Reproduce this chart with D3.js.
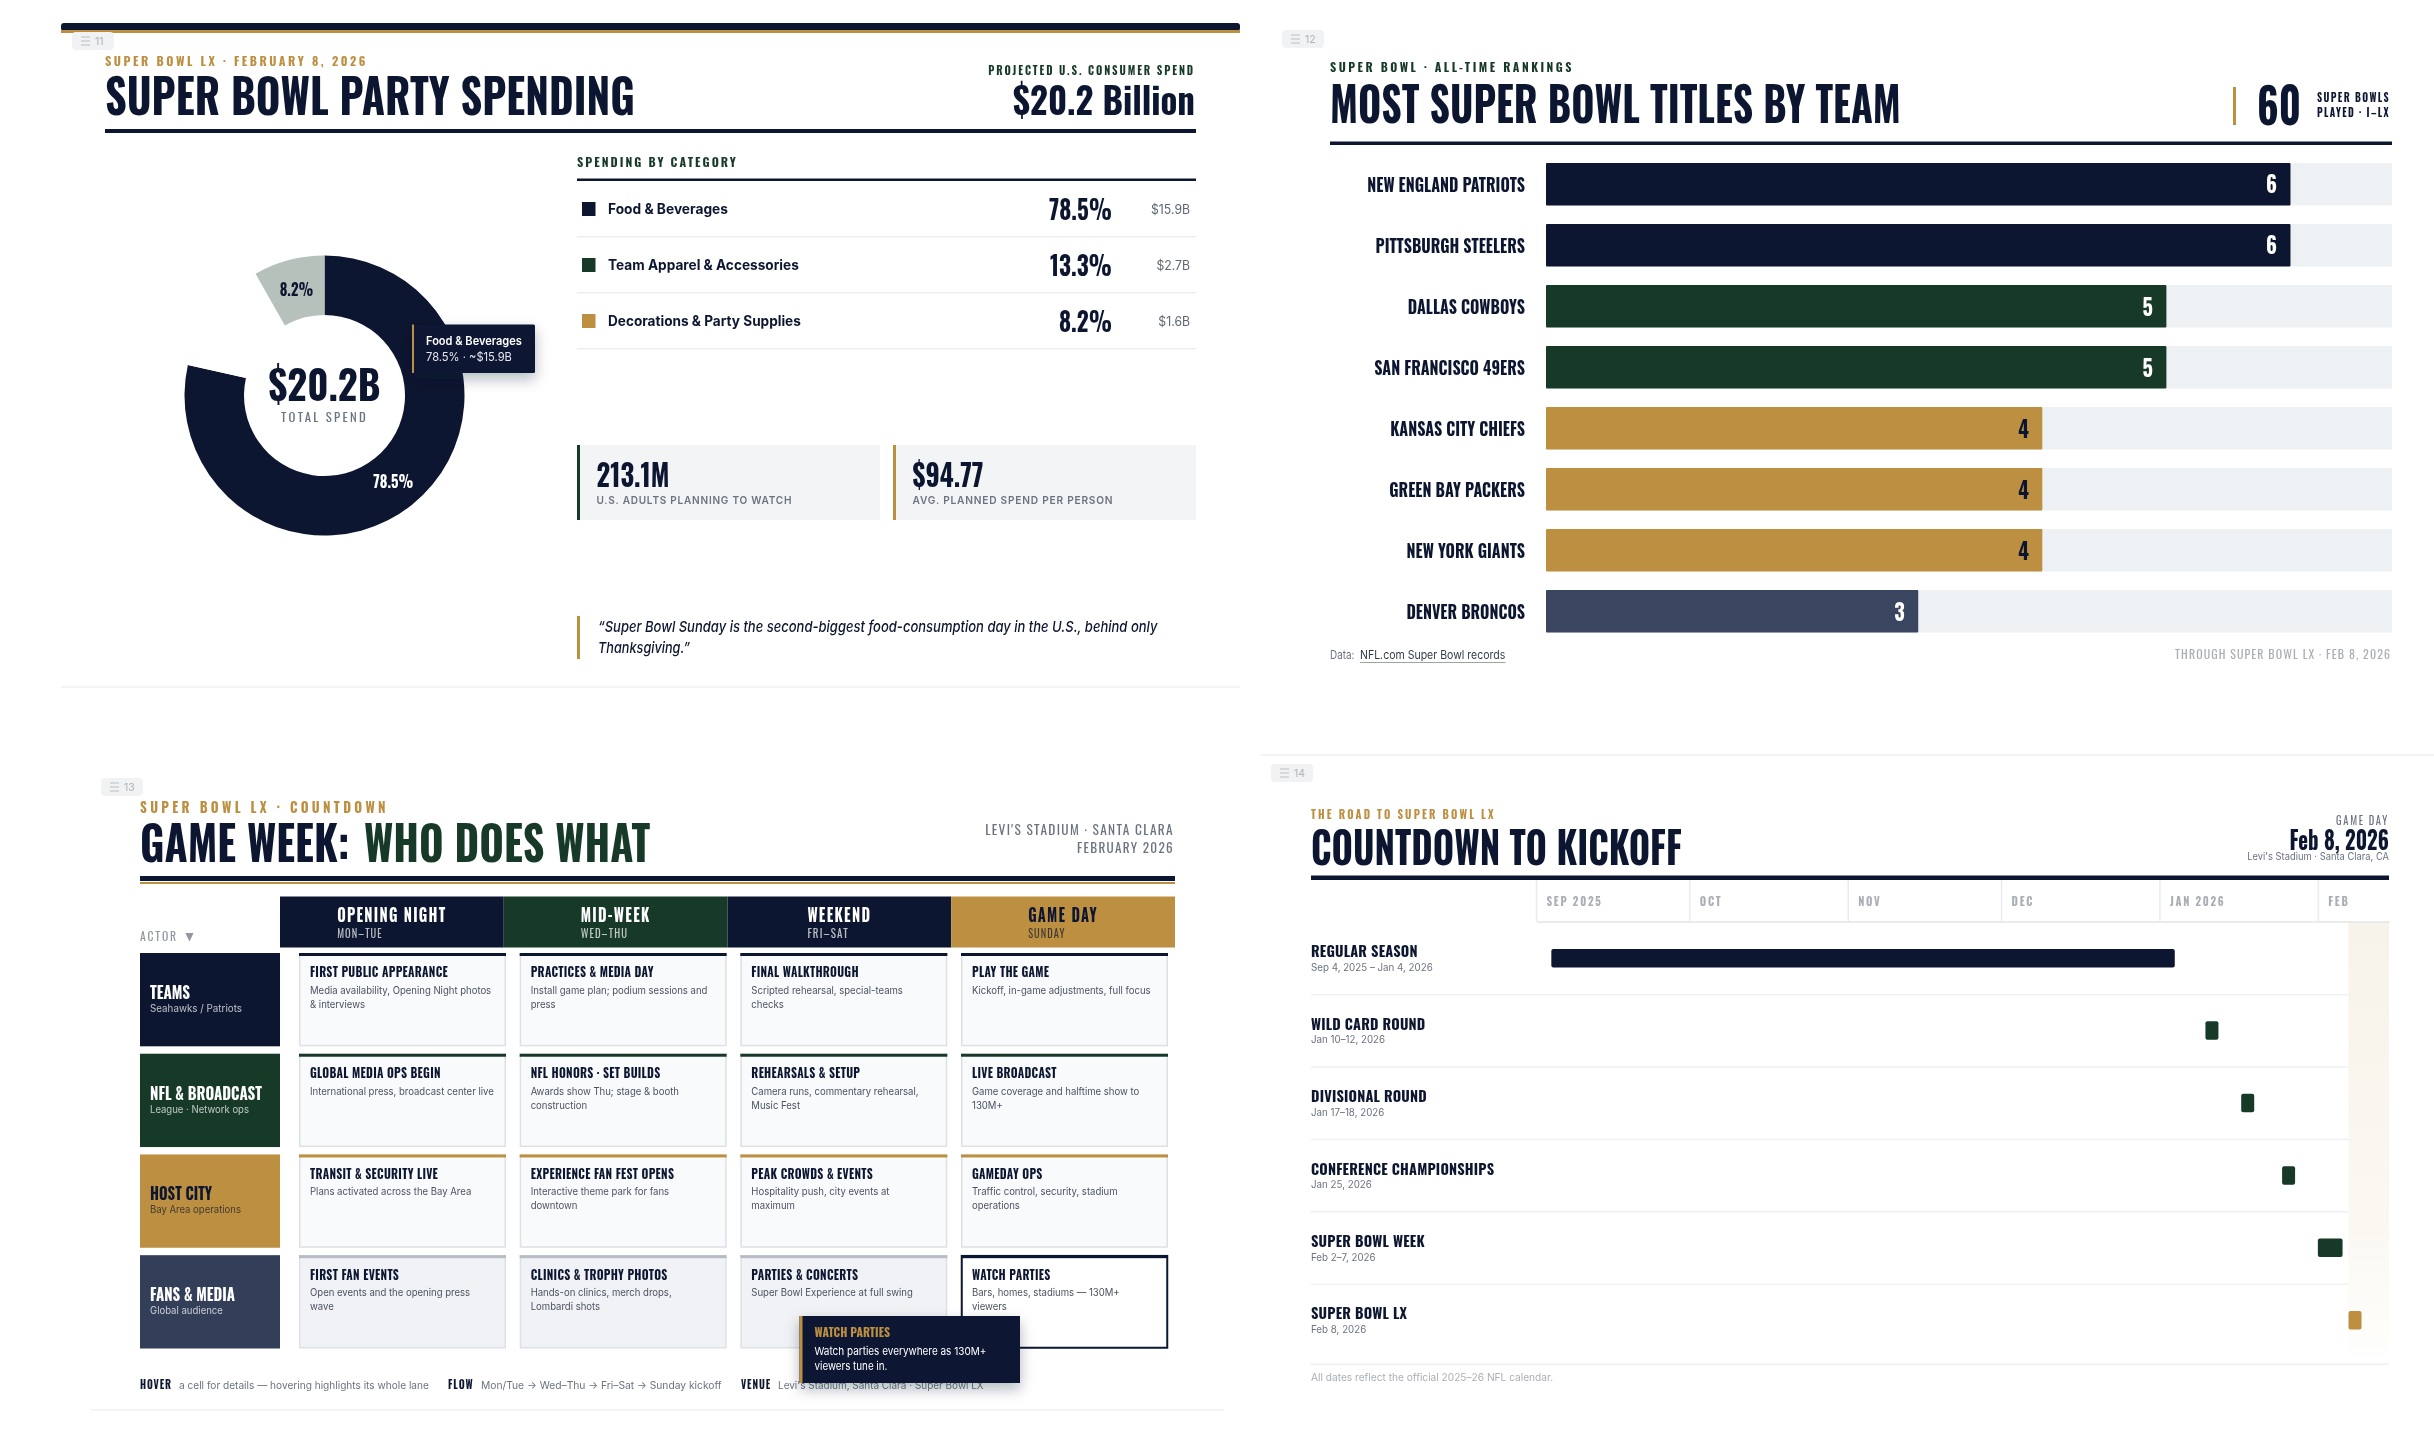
<!DOCTYPE html>
<html lang="en">
<head>
<meta charset="utf-8">
<title>Super Bowl LX slides</title>
<script src="https://d3js.org/d3.v7.min.js"></script>
<style>
  body { margin: 0; background: #fff; }
  svg { display: block; filter: blur(0.35px); }
</style>
</head>
<body>
<script>
// party spending
var spendCategories = ["Food & Beverages", "Team Apparel & Accessories", "Decorations & Party Supplies"];
var spendShares = [78.5, 13.3, 8.2];
var spendDollars = ["$15.9B", "$2.7B", "$1.6B"];
var statValues = ["213.1M", "$94.77"];
var statLabels = ["U.S. ADULTS PLANNING TO WATCH", "AVG. PLANNED SPEND PER PERSON"];

// titles by team
var teams = ["NEW ENGLAND PATRIOTS", "PITTSBURGH STEELERS", "DALLAS COWBOYS", "SAN FRANCISCO 49ERS",
  "KANSAS CITY CHIEFS", "GREEN BAY PACKERS", "NEW YORK GIANTS", "DENVER BRONCOS"];
var titles = [6, 6, 5, 5, 4, 4, 4, 3];

// game week grid
var phases = ["OPENING NIGHT", "MID-WEEK", "WEEKEND", "GAME DAY"];
var phaseDays = ["MON–TUE", "WED–THU", "FRI–SAT", "SUNDAY"];
var actors = ["TEAMS", "NFL & BROADCAST", "HOST CITY", "FANS & MEDIA"];
var actorNotes = ["Seahawks / Patriots", "League · Network ops", "Bay Area operations", "Global audience"];
var cellTitles = [
  ["FIRST PUBLIC APPEARANCE", "PRACTICES & MEDIA DAY", "FINAL WALKTHROUGH", "PLAY THE GAME"],
  ["GLOBAL MEDIA OPS BEGIN", "NFL HONORS · SET BUILDS", "REHEARSALS & SETUP", "LIVE BROADCAST"],
  ["TRANSIT & SECURITY LIVE", "EXPERIENCE FAN FEST OPENS", "PEAK CROWDS & EVENTS", "GAMEDAY OPS"],
  ["FIRST FAN EVENTS", "CLINICS & TROPHY PHOTOS", "PARTIES & CONCERTS", "WATCH PARTIES"]
];
var cellNotes = [
  [["Media availability, Opening Night photos", "& interviews"], ["Install game plan; podium sessions and", "press"], ["Scripted rehearsal, special-teams", "checks"], ["Kickoff, in-game adjustments, full focus"]],
  [["International press, broadcast center live"], ["Awards show Thu; stage & booth", "construction"], ["Camera runs, commentary rehearsal,", "Music Fest"], ["Game coverage and halftime show to", "130M+"]],
  [["Plans activated across the Bay Area"], ["Interactive theme park for fans", "downtown"], ["Hospitality push, city events at", "maximum"], ["Traffic control, security, stadium", "operations"]],
  [["Open events and the opening press", "wave"], ["Hands-on clinics, merch drops,", "Lombardi shots"], ["Super Bowl Experience at full swing"], ["Bars, homes, stadiums — 130M+", "viewers"]]
];

// road to kickoff
var monthTicks = ["2025-09-01", "2025-10-01", "2025-11-01", "2025-12-01", "2026-01-01", "2026-02-01"];
var monthLabels = ["SEP 2025", "OCT", "NOV", "DEC", "JAN 2026", "FEB"];
var stages = ["REGULAR SEASON", "WILD CARD ROUND", "DIVISIONAL ROUND", "CONFERENCE CHAMPIONSHIPS", "SUPER BOWL WEEK", "SUPER BOWL LX"];
var stageDates = ["Sep 4, 2025 – Jan 4, 2026", "Jan 10–12, 2026", "Jan 17–18, 2026", "Jan 25, 2026", "Feb 2–7, 2026", "Feb 8, 2026"];
var stageStart = ["2025-09-04", "2026-01-10", "2026-01-17", "2026-01-25", "2026-02-01", "2026-02-07"];
var stageEnd = ["2026-01-04", "2026-01-12", "2026-01-18", "2026-01-25", "2026-02-05T20:00", "2026-02-07"];

var navy = "#0d1630", green = "#163a27", gold = "#bc8f41", slate = "#333e58";
var grey = "#6b7280", pale = "#a9aeb5", hair = "#eceef0";
var cond = "'Liberation Sans Narrow', 'Oswald', sans-serif";
var body = "Inter, Roboto, sans-serif";

var svg = d3.select("body").append("svg").attr("width", 2434).attr("height", 1440);

var defs = svg.append("defs");
defs.append("filter").attr("id", "shadow").attr("x", "-30%").attr("y", "-30%").attr("width", "160%").attr("height", "180%")
  .append("feDropShadow").attr("dx", 0).attr("dy", 6).attr("stdDeviation", 7).attr("flood-color", "#0d1630").attr("flood-opacity", 0.3);
var fade = defs.append("linearGradient").attr("id", "fade").attr("x1", 0).attr("x2", 0).attr("y1", 0).attr("y2", 1);
fade.append("stop").attr("offset", "0%").attr("stop-color", "#f7f3ea");
fade.append("stop").attr("offset", "70%").attr("stop-color", "#fbf8f2");
fade.append("stop").attr("offset", "100%").attr("stop-color", "#fefefc");

// text helper: w squeezes the string to a width
function put(g, str, x, y, o) {
  var isBody = o.f === "b";
  var t = g.append("text").text(str)
    .attr("font-family", isBody ? body : cond)
    .attr("font-size", o.s)
    .attr("font-weight", o.wt || (isBody ? 400 : 700))
    .attr("fill", o.fill || navy)
    .attr("text-anchor", o.a || "start")
    .attr("letter-spacing", o.ls || 0)
    .attr("font-style", o.it ? "italic" : "normal");
  var sx = o.sx || 1;
  if (o.w) sx = o.w / t.node().getComputedTextLength();
  // narrow face sits a touch high against the picture
  var dy = isBody ? 0 : o.s * 0.03;
  t.attr("transform", "translate(" + x + "," + (y + dy) + ") scale(" + sx + ",1)");
  return t;
}

function rule(g, x0, x1, y0, y1, fill) {
  return g.append("rect").attr("x", x0).attr("y", y0).attr("width", x1 - x0).attr("height", y1 - y0).attr("fill", fill);
}

function badge(x, y, label) {
  var g = svg.append("g");
  g.append("rect").attr("x", x).attr("y", y).attr("width", 42).attr("height", 18).attr("rx", 4).attr("fill", "#f1f2f3");
  [5, 9, 13].forEach(function (d) { rule(g, x + 9, x + 18, y + d - 0.5, y + d + 0.5, "#bcc0c5"); });
  put(g, label, x + 23, y + 13, { f: "b", s: 11, fill: "#b0b4ba", sx: 0.95 });
}

// ---- panel 11: spending
(function () {
  var g = svg.append("g");
  rule(g, 61, 1240, 23, 31, navy).attr("rx", 3);
  rule(g, 61, 1240, 30, 33, gold);
  rule(g, 61, 1240, 686, 688, "#f3f4f5");
  badge(72, 32, "11");
  put(g, "SUPER BOWL LX · FEBRUARY 8, 2026", 105, 66, { s: 12.5, fill: gold, ls: 2.6, w: 263 });
  put(g, "SUPER BOWL PARTY SPENDING", 105, 114, { s: 47, w: 530 });
  put(g, "PROJECTED U.S. CONSUMER SPEND", 1195, 75, { s: 11.5, fill: green, ls: 2, a: "end", w: 207 });
  put(g, "$20.2 Billion", 1195, 114, { s: 38, a: "end", w: 182 });
  rule(g, 105, 1196, 129, 133, navy);

  // donut, middle slice drawn in page white as in the source
  var pie = d3.pie().sort(null).value(function (d) { return d; });
  var arc = d3.arc().innerRadius(80.5).outerRadius(140);
  var labelArc = d3.arc().innerRadius(110).outerRadius(110);
  var sliceFill = [navy, "#fff", "#b7c1bc"];
  var labelFill = ["#fff", null, navy];
  var donut = g.append("g").attr("transform", "translate(324.5,395.5)");
  var slices = pie(spendShares);
  donut.selectAll("path").data(slices).enter().append("path")
    .attr("d", arc).attr("fill", function (d, i) { return sliceFill[i]; });
  slices.forEach(function (d, i) {
    if (!labelFill[i]) return;
    var c = labelArc.centroid(d);
    put(donut, d.data.toFixed(1) + "%", c[0], c[1] + 6, { s: 16, fill: labelFill[i], a: "middle", sx: 0.92 });
  });
  put(donut, "$20.2B", 0, 4, { s: 40, a: "middle", w: 112 });
  put(donut, "TOTAL SPEND", 0, 26.5, { s: 11, wt: 400, fill: grey, ls: 2, a: "middle", w: 87 });

  // legend table
  put(g, "SPENDING BY CATEGORY", 577, 167, { s: 12, fill: green, ls: 2, w: 161 });
  rule(g, 577, 1196, 178.5, 181, navy);
  var rowY = d3.scaleBand().domain(spendCategories).range([181, 349]);
  var legendFill = [navy, green, gold];
  var labelW = [120, 191, 193];
  var pctW = [63, 62, 53];
  spendCategories.forEach(function (c, i) {
    var y = rowY(c) + rowY.bandwidth() / 2;
    rule(g, 582, 595.5, y - 7, y + 7, legendFill[i]);
    put(g, c, 608, y + 5, { f: "b", s: 14, wt: 700, w: labelW[i] });
    put(g, spendShares[i].toFixed(1) + "%", 1112, y + 10, { s: 27, a: "end", w: pctW[i] });
    put(g, spendDollars[i], 1190, y + 4.5, { f: "b", s: 12.5, fill: "#5f6673", a: "end", sx: 0.98 });
    rule(g, 577, 1196, rowY(c) + rowY.bandwidth() - 1, rowY(c) + rowY.bandwidth() + 0.5, hair);
  });

  // stat cards
  var cardX = [577, 893];
  var cardEdge = [green, gold];
  var statW = [73, 71];
  var statLabelW = [196, 201];
  statValues.forEach(function (v, i) {
    rule(g, cardX[i], cardX[i] + 303, 445, 520, "#f3f4f6");
    rule(g, cardX[i], cardX[i] + 3, 445, 520, cardEdge[i]);
    put(g, v, cardX[i] + 19.5, 486.5, { s: 30, w: statW[i] });
    put(g, statLabels[i], cardX[i] + 19.5, 503.5, { f: "b", s: 10.5, wt: 600, fill: grey, ls: 0.8, w: statLabelW[i] });
  });

  // quote
  rule(g, 577, 580, 616, 659, gold);
  put(g, "“Super Bowl Sunday is the second-biggest food-consumption day in the U.S., behind only", 598, 632, { f: "b", s: 15, it: true, wt: 500, w: 560 });
  put(g, "Thanksgiving.”", 598, 653, { f: "b", s: 15, it: true, wt: 500, w: 92 });

  // tooltip
  var tip = g.append("g");
  rule(tip, 412, 535, 324.5, 373, navy).attr("filter", "url(#shadow)").attr("rx", 1.5);
  rule(tip, 412, 414, 324.5, 373, gold);
  put(tip, "Food & Beverages", 426, 345, { f: "b", s: 11.5, wt: 600, fill: "#fff", w: 96 });
  put(tip, "78.5% · ~$15.9B", 426, 361, { f: "b", s: 11.5, fill: "#e5e7ec", w: 86 });
})();

// ---- panel 12: titles by team
(function () {
  var g = svg.append("g");
  badge(1282, 30, "12");
  put(g, "SUPER BOWL · ALL-TIME RANKINGS", 1330, 72, { s: 12.5, fill: green, ls: 2.6, w: 244 });
  put(g, "MOST SUPER BOWL TITLES BY TEAM", 1330, 121.5, { s: 47, w: 571 });
  rule(g, 2233, 2236, 87, 125, gold);
  put(g, "60", 2257, 124, { s: 49, w: 44 });
  put(g, "SUPER BOWLS", 2317, 102, { s: 11, ls: 1.5, w: 73 });
  put(g, "PLAYED · I–LX", 2317, 117, { s: 11, ls: 1.5, w: 73 });
  rule(g, 1330, 2392, 141.5, 145, navy);

  var x = d3.scaleLinear().domain([0, d3.max(titles) / 0.88]).range([1546, 2392]);
  var y = d3.scaleBand().domain(teams).range([163, 632.6]).paddingInner(0.303);
  var barFill = d3.scaleOrdinal().domain([6, 5, 4, 3]).range([navy, green, gold, "#3a4560"]);

  g.selectAll(".track").data(teams).enter().append("rect").attr("class", "track")
    .attr("x", x(0)).attr("width", x.range()[1] - x(0))
    .attr("y", function (d) { return y(d); }).attr("height", y.bandwidth()).attr("fill", "#eef1f3");
  g.selectAll(".bar").data(titles).enter().append("rect").attr("class", "bar")
    .attr("x", x(0)).attr("width", function (d) { return x(d) - x(0); })
    .attr("y", function (d, i) { return y(teams[i]); }).attr("height", y.bandwidth())
    .attr("rx", 1).attr("fill", function (d) { return barFill(d); });

  titles.forEach(function (d, i) {
    put(g, d, x(d) - 13.5, y(teams[i]) + y.bandwidth() / 2 + 8.5, { s: 24, a: "end", fill: d === 4 ? navy : "#fff", sx: 0.85 });
  });

  var axis = g.append("g").attr("transform", "translate(1546,0)").call(d3.axisLeft(y).tickSize(0));
  axis.select(".domain").remove();
  axis.selectAll("text")
    .attr("x", 0).attr("dy", null)
    .attr("font-family", cond).attr("font-size", 18).attr("font-weight", 700).attr("fill", navy)
    .attr("transform", "translate(-21,7.5) scale(0.89,1)");

  put(g, "Data:", 1330, 658.5, { f: "b", s: 11.5, fill: grey, sx: 0.86 });
  put(g, "NFL.com Super Bowl records", 1360, 658.5, { f: "b", s: 11.5, w: 145.6, fill: "#333a4a" });
  rule(g, 1360, 1505.6, 662, 663, "#9ba6a0");
  put(g, "THROUGH SUPER BOWL LX · FEB 8, 2026", 2391, 658.5, { s: 11, wt: 400, fill: pale, ls: 1, a: "end", w: 216 });
})();

// ---- panel 13: game week grid
(function () {
  var g = svg.append("g");
  rule(g, 91, 1224, 1409, 1411, "#f3f4f5");
  badge(101, 778, "13");
  put(g, "SUPER BOWL LX · COUNTDOWN", 140, 813, { s: 14.5, fill: gold, ls: 3.6, w: 249 });
  put(g, "GAME WEEK:", 140, 860.5, { s: 47, w: 209.5 });
  put(g, "WHO DOES WHAT", 364, 860.5, { s: 47, fill: green, w: 286.5 });
  put(g, "LEVI'S STADIUM · SANTA CLARA", 1174, 834.6, { s: 14, wt: 400, fill: grey, ls: 1.4, a: "end", w: 189 });
  put(g, "FEBRUARY 2026", 1174, 852.4, { s: 14, wt: 400, fill: grey, ls: 1.4, a: "end", w: 97 });
  rule(g, 140, 1175, 876, 881, navy);
  rule(g, 140, 1175, 882, 884, gold);

  put(g, "ACTOR", 140, 941, { s: 11.5, wt: 400, fill: "#9298a1", ls: 1.8, w: 38 });
  put(g, "▼", 185, 941, { f: "b", s: 11, fill: "#9298a1", w: 9 });

  var headX = d3.scaleBand().domain(phases).range([280, 1175]);
  var headFill = [navy, green, navy, gold];
  var headW = [109.5, 70, 64, 70];
  var subW = [45.5, 47.5, 41.5, 37.5];
  phases.forEach(function (p, i) {
    var mid = headX(p) + headX.bandwidth() / 2;
    rule(g, headX(p), headX(p) + headX.bandwidth(), 896.5, 947.5, headFill[i]);
    var ink = i === 3 ? navy : "#fff";
    put(g, p, mid - headW[i] / 2, 921.8, { s: 18, fill: ink, ls: 1.6, w: headW[i] });
    put(g, phaseDays[i], mid - headW[i] / 2, 938, { s: 11.5, wt: 400, fill: ink, ls: 1.2, w: subW[i] }).attr("opacity", 0.72);
  });

  var rowY = d3.scaleBand().domain(actors).range([953, 1348.5]).paddingInner(0.0735);
  var colX = d3.scaleBand().domain(phases).range([299, 1168]).paddingInner(0.062);
  var actorFill = [navy, green, gold, slate];
  var actorInk = ["#fff", "#fff", navy, "#fff"];
  var edge = [navy, green, gold, "#b6bbc5"];
  var actorW = [40, 112, 62, 85];
  var noteW = [92, 99, 91, 73];

  actors.forEach(function (a, r) {
    var top = rowY(a), h = rowY.bandwidth();
    rule(g, 140, 280, top, top + h, actorFill[r]);
    put(g, a, 150, top + 45.5, { s: 16, fill: actorInk[r], w: actorW[r] });
    put(g, actorNotes[r], 150, top + 59, { f: "b", s: 10.5, fill: actorInk[r], w: noteW[r] }).attr("opacity", 0.72);

    phases.forEach(function (p, c) {
      var live = r === 3 && c === 3;
      var x0 = colX(p), w = colX.bandwidth();
      g.append("rect").attr("x", x0 + 0.75).attr("y", top + 0.75).attr("width", w - 1.5).attr("height", h - 1.5)
        .attr("fill", live ? "#fff" : (r === 3 ? "#f0f2f6" : "#f8fafc"))
        .attr("stroke", live ? navy : "#dde1e6").attr("stroke-width", live ? 2 : 1.5);
      rule(g, x0, x0 + w, top, top + 3, live ? navy : edge[r]);
      put(g, cellTitles[r][c], x0 + 11, top + 24, { s: 13, ls: 0.3, sx: 0.9 });
      cellNotes[r][c].forEach(function (line, k) {
        put(g, line, x0 + 11, top + 41 + k * 14, { f: "b", s: 10.5, fill: "#4b5260", sx: 0.91 });
      });
    });
  });

  // key line
  var keys = [["HOVER", 140, 32, "a cell for details — hovering highlights its whole lane", 179, 250],
    ["FLOW", 448, 25.6, "Mon/Tue → Wed–Thu → Fri–Sat → Sunday kickoff", 481, 241],
    ["VENUE", 741, 30, "Levi's Stadium, Santa Clara · Super Bowl LX", 778, 206]];
  keys.forEach(function (k) {
    put(g, k[0], k[1], 1389, { s: 11.5, ls: 1, w: k[2] });
    put(g, k[3], k[4], 1389, { f: "b", s: 10.5, fill: grey, w: k[5] });
  });

  // tooltip
  var tip = g.append("g");
  rule(tip, 799.5, 1020, 1316, 1383, navy).attr("filter", "url(#shadow)");
  rule(tip, 799.5, 802.5, 1316, 1383, gold);
  put(tip, "WATCH PARTIES", 814.5, 1337, { s: 12.5, fill: gold, w: 75.5 });
  put(tip, "Watch parties everywhere as 130M+", 814.5, 1354.6, { f: "b", s: 11, fill: "#fff", w: 172 });
  put(tip, "viewers tune in.", 814.5, 1370, { f: "b", s: 11, fill: "#fff", w: 73 });
})();

// ---- panel 14: road to kickoff
(function () {
  var g = svg.append("g");
  rule(g, 1260, 2434, 754, 756, "#f3f4f5");
  badge(1271, 764, "14");
  put(g, "THE ROAD TO SUPER BOWL LX", 1311, 819, { s: 12, fill: gold, ls: 2.4, w: 185 });
  put(g, "COUNTDOWN TO KICKOFF", 1311, 863.5, { s: 44, w: 371 });
  put(g, "GAME DAY", 2389, 825, { s: 11, wt: 400, fill: grey, ls: 1.8, a: "end", w: 53 });
  put(g, "Feb 8, 2026", 2389, 849.4, { s: 25, a: "end", w: 99.5 });
  put(g, "Levi's Stadium · Santa Clara, CA", 2389, 860.4, { f: "b", s: 10.5, fill: grey, a: "end", w: 142 });
  rule(g, 1311, 2389, 875.5, 880, navy);

  var parse = function (d) { return new Date(d); };
  var x = d3.scaleTime().domain([new Date("2025-09-01"), new Date("2026-02-15")]).range([1536, 2389.4]);
  var y = d3.scaleBand().domain(stages).range([922, 1356.4]);

  rule(g, x(new Date("2026-02-07")), 2389, 922, 1356, "url(#fade)");

  // month header
  var axis = g.append("g").attr("transform", "translate(0,921.5)")
    .call(d3.axisTop(x).tickValues(monthTicks.map(parse)).tickSizeInner(41.5).tickSizeOuter(0)
      .tickFormat(function (d, i) { return monthLabels[i]; }));
  axis.select(".domain").attr("stroke", "#e3e5e8").attr("stroke-width", 1.5);
  axis.selectAll("line").attr("stroke", "#e9ebee").attr("stroke-width", 1.5);
  axis.selectAll("text")
    .attr("text-anchor", "start").attr("x", 0).attr("y", 0).attr("dy", null)
    .attr("font-family", cond).attr("font-size", 11.5).attr("font-weight", 700).attr("fill", pale)
    .attr("letter-spacing", 1.8)
    .attr("transform", "translate(10,-15.5) scale(0.95,1)");

  var stageFill = [navy, green, green, green, green, gold];
  stages.forEach(function (s, i) {
    var top = y(s), mid = top + y.bandwidth() / 2;
    put(g, s, 1311, top + 35, { s: 15.5, ls: 0.2, sx: 0.93 });
    put(g, stageDates[i], 1311, top + 49, { f: "b", s: 10.5, fill: grey, sx: 0.93 });
    var x0 = x(parse(stageStart[i]));
    g.append("rect").attr("x", x0).attr("y", mid - 9.25)
      .attr("width", Math.max(13, x(parse(stageEnd[i])) - x0)).attr("height", 18.5)
      .attr("rx", 2).attr("fill", stageFill[i]);
    var extra = i === 5 ? 7.5 : 0;
    rule(g, 1311, i === 5 ? 2389 : x(new Date("2026-02-07")), top + y.bandwidth() - 0.5 + extra, top + y.bandwidth() + 1 + extra, "#f0f1f3");
  });

  put(g, "All dates reflect the official 2025–26 NFL calendar.", 1311, 1381, { f: "b", s: 10.5, fill: pale, w: 242.5 });
})();
</script>
</body>
</html>
